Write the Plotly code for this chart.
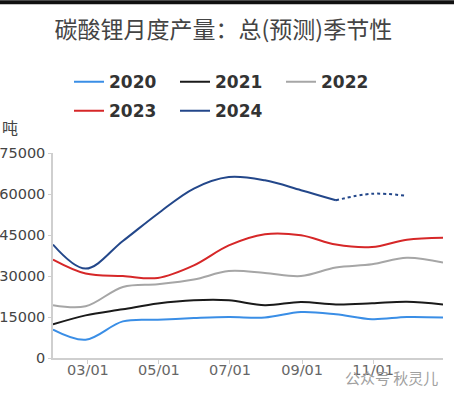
import plotly.graph_objects as go

dates = ["2024-01-31", "2024-02-28", "2024-03-31", "2024-04-30", "2024-05-31", "2024-06-30",
         "2024-07-31", "2024-08-31", "2024-09-30", "2024-10-31", "2024-11-30", "2024-12-31"]

y2020 = [10400, 6700, 13400, 14000, 14600, 15000, 14800, 16800, 16000, 14200, 15000, 14800]
y2021 = [12300, 15600, 17800, 19900, 21100, 21100, 19300, 20500, 19600, 20000, 20600, 19600]
y2022 = [19300, 18900, 26000, 27000, 28700, 31800, 31100, 30000, 33100, 34300, 36700, 34900]
y2023 = [36000, 30900, 30000, 29300, 33900, 41200, 45300, 44900, 41500, 40600, 43300, 44000]
y2024_actual = [41500, 32700, 42800, 52800, 62000, 66200, 65000, 61400, 57700]
y2024_forecast = [57700, 60100, 59300]

tick_vals = ["2024-03-01", "2024-05-01", "2024-07-01", "2024-09-01", "2024-11-01"]
tick_text = ["03/01", "05/01", "07/01", "09/01", "11/01"]

colors = {"2020": "#3a8ee6", "2021": "#1a1a1a", "2022": "#a6a6a6", "2023": "#d62728", "2024": "#23478a"}

fig = go.Figure()
for name, ys, lg in [("2020", y2020, "legend"), ("2021", y2021, "legend"), ("2022", y2022, "legend"),
                     ("2023", y2023, "legend2")]:
    fig.add_trace(go.Scatter(x=dates, y=ys, mode="lines", name=name, legend=lg,
                             line=dict(color=colors[name], width=2, shape="spline", smoothing=1)))
fig.add_trace(go.Scatter(x=dates[:len(y2024_actual)], y=y2024_actual, mode="lines", name="2024",
                         legend="legend2",
                         line=dict(color=colors["2024"], width=2, shape="spline", smoothing=1)))
fig.add_trace(go.Scatter(x=dates[len(y2024_actual) - 1:len(y2024_actual) - 1 + len(y2024_forecast)],
                         y=y2024_forecast, mode="lines", name="2024预测", showlegend=False,
                         line=dict(color=colors["2024"], width=2, shape="spline", smoothing=1, dash="dot")))

H = 205.0
W = 390.0
legend_font = dict(family="DejaVu Sans", size=17, color="#333", weight="bold")
common_leg = dict(orientation="h", xanchor="left", yanchor="middle", font=legend_font,
                  entrywidth=61, entrywidthmode="pixels", itemwidth=30, traceorder="normal",
                  bgcolor="rgba(0,0,0,0)", borderwidth=0)

fig.update_layout(
    width=454, height=396,
    margin=dict(l=53, r=11, t=153, b=38, autoexpand=False),
    paper_bgcolor="white", plot_bgcolor="white",
    font=dict(family="Noto Sans CJK SC, Noto Sans, sans-serif", color="#444"),
    title=dict(text="碳酸锂月度产量：总(预测)季节性", x=0.492, xanchor="center", y=1 - 30 / 396, yanchor="middle",
               font=dict(size=23, color="#444")),
    legend=dict(x=(69 - 53) / W, y=(357.7 - 82) / H, **common_leg),
    legend2=dict(x=(69 - 53) / W, y=(357.7 - 111) / H, **common_leg),
    showlegend=True,
    shapes=[dict(type="rect", xref="paper", yref="paper", x0=-0.2, x1=1.2,
                 y0=(357.7 - 4) / H, y1=357.7 / H, fillcolor="#111", line=dict(width=0), layer="above")],
)
fig.update_xaxes(range=["2024-01-31", "2024-12-31"], tickvals=tick_vals, ticktext=tick_text,
                 showgrid=False, showline=True, linecolor="#cfcfcf", linewidth=1.5,
                 ticks="outside", ticklen=4, tickcolor="#cfcfcf", ticklabelstandoff=-6,
                 tickfont=dict(family="DejaVu Sans", size=14.5, color="#666"))
fig.update_yaxes(range=[0, 75000], tickvals=[0, 15000, 30000, 45000, 60000, 75000],
                 ticktext=["0", "15000", "30000", "45000", "60000", "75000"],
                 showgrid=False, showline=True, linecolor="#cfcfcf", linewidth=1.5,
                 ticks="outside", ticklen=3, tickcolor="#cfcfcf", zeroline=False, ticklabelstandoff=0,
                 tickfont=dict(family="DejaVu Sans", size=14.5, color="#444"))
fig.add_annotation(text="吨", xref="paper", yref="paper", x=(0 - 53) / W, y=(357.7 - 127) / H, xanchor="left",
                   yanchor="middle", showarrow=False, font=dict(size=16, color="#444"))
fig.add_annotation(text="公众号 秋灵儿", xref="paper", yref="paper", x=(440 - 53) / W, y=(357.7 - 377) / H,
                   xanchor="right", yanchor="middle", showarrow=False, font=dict(size=15, color="#a0a0a0"))
fig.write_html("out.html", config={"displayModeBar": False},
               post_script="document.body.style.margin='0';document.body.style.overflow='hidden';")
